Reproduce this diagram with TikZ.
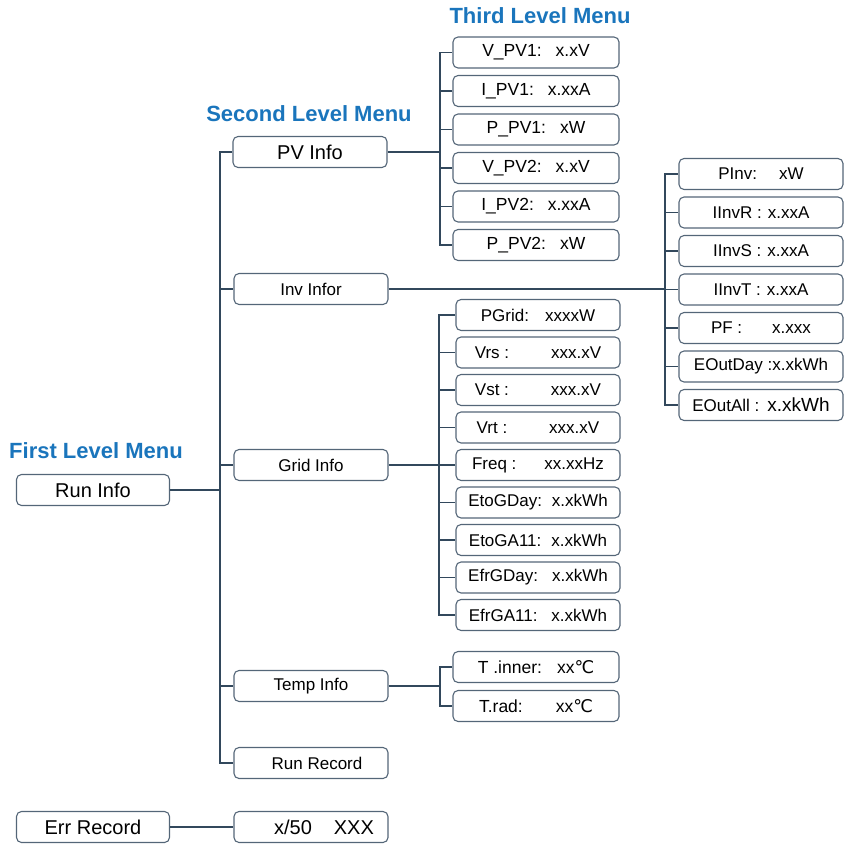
\documentclass[tikz,border=0pt]{standalone}
\usepackage{fontspec}
\setmainfont{Liberation Sans}
\newfontfamily\degfont{DejaVu Sans}
\usepackage{tikz}
\usetikzlibrary{positioning}

\definecolor{menublue}{RGB}{26,117,188}
\definecolor{boxgray}{RGB}{84,102,120}
\definecolor{linkgray}{RGB}{50,72,92}

\begin{document}
\begin{tikzpicture}[
    x=1pt, y=-1pt,
    node distance=6.4pt and 10pt, % Spacing between boxes
    link/.style={draw=linkgray, line width=1.3pt}, % Tree lines
    basebox/.style={draw=boxgray, line width=1.1pt, rounded corners=5pt,
        inner sep=0pt, minimum height=31pt},
    firstbox/.style={basebox, minimum width=153pt, font=\fontsize{20}{24}\selectfont},
    secondbox/.style={basebox, minimum width=154pt, font=\fontsize{17}{20}\selectfont},
    thirdbox/.style={basebox, minimum width=166pt, font=\fontsize{17.5}{20}\selectfont},
    valbox/.style={basebox, minimum width=164pt, font=\fontsize{17}{20}\selectfont},
    menutitle/.style={text=menublue, font=\bfseries\fontsize{22}{26}\selectfont}
]
    \useasboundingbox (0,0) rectangle (848,843);

    % Titles
    \node (title1) [menutitle] at (96,451) {First Level Menu};
    \node (title2) [menutitle] at (309,114) {Second Level Menu};
    \node (title3) [menutitle] at (540,16) {Third Level Menu};

    % First level column
    \node (runinfo) [firstbox] at (93,490) {Run Info};
    \node (errrec)  [firstbox] at (93,827) {Err Record};

    % Second level column
    \node (pvinfo)    [secondbox, font=\fontsize{20}{24}\selectfont] at (310,152) {PV Info};
    \node (invinfo)   [secondbox] at (311,289) {Inv Infor};
    \node (gridinfo)  [secondbox] at (311,465) {Grid Info};
    \node (tempinfo)  [secondbox] at (311,686) {Temp Info};
    \node (runrecord) [secondbox] at (311,763) {\hspace{12pt}Run Record};
    \node (errlist)   [secondbox, font=\fontsize{20}{24}\selectfont] at (311,827)
        {\hspace{26pt}x/50\hspace{22pt}XXX};

    % PV values
    \node (vpv1) [thirdbox] at (536,52.5) {V\_PV1:\hspace{14pt}x.xV};
    \node (ipv1) [thirdbox, below= of vpv1] {I\_PV1:\hspace{14pt}x.xxA};
    \node (ppv1) [thirdbox, below= of ipv1] {P\_PV1:\hspace{14pt}xW};
    \node (vpv2) [thirdbox, below= of ppv1] {V\_PV2:\hspace{14pt}x.xV};
    \node (ipv2) [thirdbox, below= of vpv2] {I\_PV2:\hspace{14pt}x.xxA};
    \node (ppv2) [thirdbox, below= of ipv2] {P\_PV2:\hspace{14pt}xW};

    % Inverter values
    \node (pinv)    [valbox] at (761,174)      {PInv:\hspace{22pt}xW};
    \node (iinvr)   [valbox, below= of pinv]   {IInvR :\hspace{6pt}x.xxA};
    \node (iinvs)   [valbox, below= of iinvr]  {IInvS :\hspace{6pt}x.xxA};
    \node (iinvt)   [valbox, below= of iinvs]  {IInvT :\hspace{6pt}x.xxA};
    \node (pf)      [valbox, below= of iinvt]  {PF :\hspace{30pt}x.xxx};
    \node (eoutday) [valbox, below= of pf]     {EOutDay :x.xkWh};
    \node (eoutall) [valbox, below= of eoutday]
        {EOutAll :\hspace{8pt}{\fontsize{19}{22}\selectfont x.xkWh}};

    % Grid values
    \node (pgrid)   [valbox] at (538,315)                {PGrid:\hspace{16pt}xxxxW};
    \node (vrs)     [valbox, below=5.4pt of pgrid]   {Vrs :\hspace{42pt}xxx.xV};
    \node (vst)     [valbox, below=5.4pt of vrs]     {Vst :\hspace{42pt}xxx.xV};
    \node (vrt)     [valbox, below=5.4pt of vst]     {Vrt :\hspace{42pt}xxx.xV};
    \node (freq)    [valbox, below=5.4pt of vrt]     {Freq :\hspace{28pt}xx.xxHz};
    \node (etogday) [valbox, below=5.4pt of freq]    {EtoGDay:\hspace{10pt}x.xkWh};
    \node (etogall) [valbox, below=5.4pt of etogday] {EtoGA11:\hspace{10pt}x.xkWh};
    \node (efrgday) [valbox, below=5.4pt of etogall] {EfrGDay:\hspace{14pt}x.xkWh};
    \node (efrgall) [valbox, below=5.4pt of efrgday] {EfrGA11:\hspace{14pt}x.xkWh};

    % Temperature values
    \node (tinner) [thirdbox] at (536,667)        {T .inner:\hspace{15pt}xx{\degfont ℃}\hspace{16pt}};
    \node (trad)   [thirdbox, below=6.9pt of tinner] {T.rad:\hspace{33pt}xx{\degfont ℃}\hspace{16pt}};

    % Bus points of the tree
    \coordinate (lv2bus)  at (220,490);
    \coordinate (pvbus)   at (440,152);
    \coordinate (invbus)  at (665,289);
    \coordinate (gridbus) at (439,465);
    \coordinate (tempbus) at (440,686);

    % Lines from first to second level
    \draw[link] (runinfo) -- (lv2bus);
    \foreach \n in {pvinfo, invinfo, gridinfo, tempinfo, runrecord}
        \draw[link] (lv2bus) |- (\n.west);
    \draw[link] (errrec) -- (errlist);

    % Lines from second to third level
    \draw[link] (pvinfo) -- (pvbus);
    \foreach \n in {vpv1, ipv1, ppv1, vpv2, ipv2, ppv2}
        \draw[link] (pvbus) |- (\n.west);

    \draw[link] (invinfo) -- (invbus);
    \foreach \n in {pinv, iinvr, iinvs, iinvt, pf, eoutday, eoutall}
        \draw[link] (invbus) |- (\n.west);

    \draw[link] (gridinfo) -- (gridbus);
    \foreach \n in {pgrid, vrs, vst, vrt, freq, etogday, etogall, efrgday, efrgall}
        \draw[link] (gridbus) |- (\n.west);

    \draw[link] (tempinfo) -- (tempbus);
    \foreach \n in {tinner, trad}
        \draw[link] (tempbus) |- (\n.west);

\end{tikzpicture}
\end{document}
